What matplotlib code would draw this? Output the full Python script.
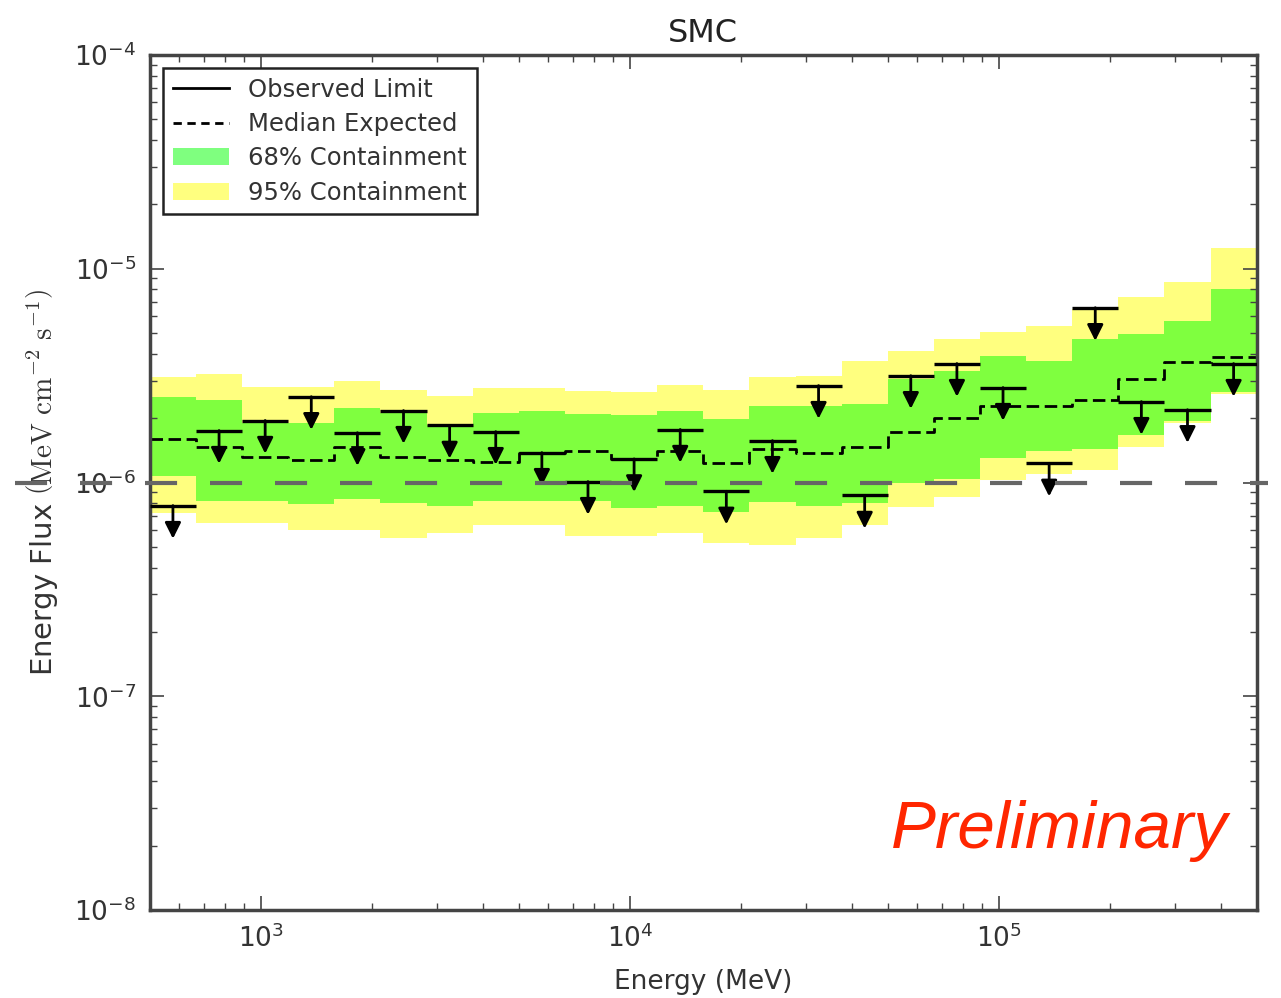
import numpy as np
import matplotlib.pyplot as plt
from matplotlib.lines import Line2D
from matplotlib.patches import Patch

plt.rcParams['axes.unicode_minus'] = False

# ---------------------------------------------------------------
# datos (24 bins logaritmicos, 500 MeV - 500 GeV)
# ---------------------------------------------------------------
e_min = 500.0
e_max = 500000.0
n_bins = 24

observed = [7.8e-7, 1.75e-6, 1.95e-6, 2.52e-6, 1.71e-6, 2.17e-6, 1.85e-6, 1.73e-6,
            1.38e-6, 1.01e-6, 1.29e-6, 1.77e-6, 9.1e-7, 1.57e-6, 2.84e-6, 8.7e-7,
            3.16e-6, 3.6e-6, 2.78e-6, 1.23e-6, 6.57e-6, 2.39e-6, 2.19e-6, 3.6e-6]
median = [1.59e-6, 1.47e-6, 1.32e-6, 1.28e-6, 1.46e-6, 1.32e-6, 1.27e-6, 1.25e-6,
          1.38e-6, 1.40e-6, 1.29e-6, 1.40e-6, 1.24e-6, 1.44e-6, 1.37e-6, 1.47e-6,
          1.73e-6, 2.01e-6, 2.27e-6, 2.27e-6, 2.42e-6, 3.06e-6, 3.67e-6, 3.88e-6]
lo68 = [1.07e-6, 8.2e-7, 8.2e-7, 7.9e-7, 8.4e-7, 8.0e-7, 7.8e-7, 8.2e-7,
        8.2e-7, 8.2e-7, 7.6e-7, 7.8e-7, 7.3e-7, 8.1e-7, 7.8e-7, 8.0e-7,
        1.0e-6, 1.04e-6, 1.3e-6, 1.4e-6, 1.44e-6, 1.66e-6, 1.93e-6, 2.66e-6]
hi68 = [2.5e-6, 2.42e-6, 1.89e-6, 1.89e-6, 2.22e-6, 2.12e-6, 1.85e-6, 2.12e-6,
        2.15e-6, 2.10e-6, 2.06e-6, 2.15e-6, 1.99e-6, 2.29e-6, 2.29e-6, 2.34e-6,
        3.06e-6, 3.34e-6, 3.92e-6, 3.72e-6, 4.71e-6, 4.97e-6, 5.71e-6, 8.07e-6]
lo95 = [7.2e-7, 6.5e-7, 6.5e-7, 6.0e-7, 6.0e-7, 5.5e-7, 5.8e-7, 6.3e-7,
        6.3e-7, 5.65e-7, 5.65e-7, 5.8e-7, 5.2e-7, 5.1e-7, 5.5e-7, 6.3e-7,
        7.7e-7, 8.6e-7, 1.03e-6, 1.1e-6, 1.14e-6, 1.46e-6, 1.9e-6, 2.6e-6]
hi95 = [3.13e-6, 3.23e-6, 2.81e-6, 2.81e-6, 2.97e-6, 2.72e-6, 2.55e-6, 2.78e-6,
        2.78e-6, 2.69e-6, 2.66e-6, 2.87e-6, 2.72e-6, 3.13e-6, 3.16e-6, 3.72e-6,
        4.14e-6, 4.71e-6, 5.08e-6, 5.42e-6, 6.5e-6, 7.4e-6, 8.7e-6, 1.25e-5]

ref_flux = 1e-6

# bordes y centros de los bins
edges = np.logspace(np.log10(e_min), np.log10(e_max), n_bins + 1)
centers = np.sqrt(edges[:-1] * edges[1:])

def stepv(v):
    return np.append(v, v[-1])

# ---------------------------------------------------------------
# figura
# ---------------------------------------------------------------
fig = plt.figure(figsize=(12.81, 9.98), dpi=100)
ax = fig.add_axes([0.117, 0.088, 0.864, 0.857])

ax.fill_between(edges, stepv(lo95), stepv(hi95), step='post',
                color='yellow', alpha=0.5, lw=0)
ax.fill_between(edges, stepv(lo68), stepv(hi68), step='post',
                color='lime', alpha=0.5, lw=0)
ax.step(edges, stepv(median), where='post', color='k', ls=(0, (4.5, 2)), lw=2)

# limites observados: tapa horizontal + flecha hacia abajo
ax.hlines(observed, edges[:-1], edges[1:], color='k', lw=2.4, zorder=4)
for xc, yv in zip(centers, observed):
    ax.annotate('', xy=(xc, yv * 0.70), xytext=(xc, yv),
                arrowprops=dict(arrowstyle='-|>', color='k', lw=2,
                                mutation_scale=24, shrinkA=0, shrinkB=0),
                zorder=5)

# linea de referencia gris que sale del eje
ax.axhline(ref_flux, xmin=-0.122, xmax=1.01, color='#666666', lw=3,
           ls=(0, (7.7, 7.9)), clip_on=False, zorder=10)

ax.set_xscale('log')
ax.set_yscale('log')
ax.set_xlim(e_min, e_max)
ax.set_ylim(1e-8, 1e-4)

ax.set_title('SMC', fontsize=23, color='#222222', pad=9)
ax.set_xlabel('Energy (MeV)', fontsize=19, color='#333333', labelpad=12)
ax.set_ylabel(r'Energy Flux $\left(\mathrm{MeV\ cm^{-2}\ s^{-1}}\right)$',
              fontsize=21, color='#333333', math_fontfamily='cm', labelpad=10)

ax.tick_params(which='both', direction='in', top=True, right=True,
               colors='#444444', labelsize=19, labelcolor='#333333')
ax.tick_params(which='major', length=10, width=1.2, pad=10)
ax.tick_params(which='minor', length=5, width=1)
for s in ax.spines.values():
    s.set_color('#444444')
    s.set_linewidth(2.5)

handles = [Line2D([], [], color='k', lw=2),
           Line2D([], [], color='k', lw=2, ls=(0, (3, 2))),
           Patch(facecolor='lime', alpha=0.5, lw=0),
           Patch(facecolor='yellow', alpha=0.5, lw=0)]
labels = ['Observed Limit', 'Median Expected', '68% Containment', '95% Containment']
leg = ax.legend(handles, labels, loc='upper left', fontsize=17.5, fancybox=False,
                framealpha=1, edgecolor='#222222', borderaxespad=0.55,
                handlelength=2.3, labelspacing=0.42)
leg.get_frame().set_linewidth(1.8)
for t in leg.get_texts():
    t.set_color('#333333')

ax.text(0.974, 0.0725, 'Preliminary', transform=ax.transAxes, ha='right',
        va='baseline', fontsize=48.5, style='italic', color='#FF2600',
        family='Liberation Sans')

fig.savefig('out.png', dpi=100)
